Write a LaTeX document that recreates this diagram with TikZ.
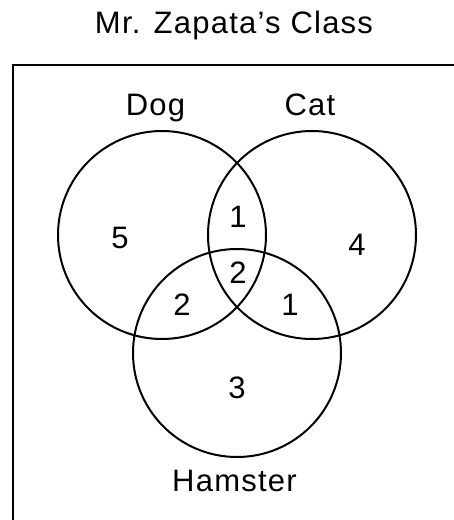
\documentclass[tikz,border=0pt]{standalone}
\usepackage{fontspec}
\setmainfont{Liberation Sans}[LetterSpace=4]
\begin{document}
\begin{tikzpicture}[x=1pt,y=-1pt,
  setcircle/.style={circle,draw,line width=2pt,minimum size=208pt,inner sep=0pt},
  lbl/.style={anchor=base,inner sep=0pt,font=\fontsize{31}{33}\selectfont}]
\useasboundingbox (0,0) rectangle (454,520);
\node[lbl] (title) at (234,33.5) {Mr. Zapata’s Class};
\coordinate (frameBL) at (12.5,525);
\coordinate (frameTL) at (12.5,65);
\coordinate (frameTR) at (460,65);
\draw[line width=2pt] (frameBL) -- (frameTL) -- (frameTR);
\node[setcircle] (dog) at (162,235) {};
\node[setcircle] (cat) at (312,235) {};
\node[setcircle] (hamster) at (237,353) {};
\node[lbl] (doglbl) at (155.5,115) {Dog};
\node[lbl] (catlbl) at (310,115) {Cat};
\node[lbl] (hamlbl) at (234.5,491) {Hamster};
\node[lbl] (n5) at (120,248) {5};
\node[lbl] (n1t) at (238,227) {1};
\node[lbl] (n2c) at (238,283) {2};
\node[lbl] (n4) at (357,255) {4};
\node[lbl] (n2l) at (182,315) {2};
\node[lbl] (n1r) at (290,315) {1};
\node[lbl] (n3) at (237,398) {3};
\end{tikzpicture}
\end{document}
